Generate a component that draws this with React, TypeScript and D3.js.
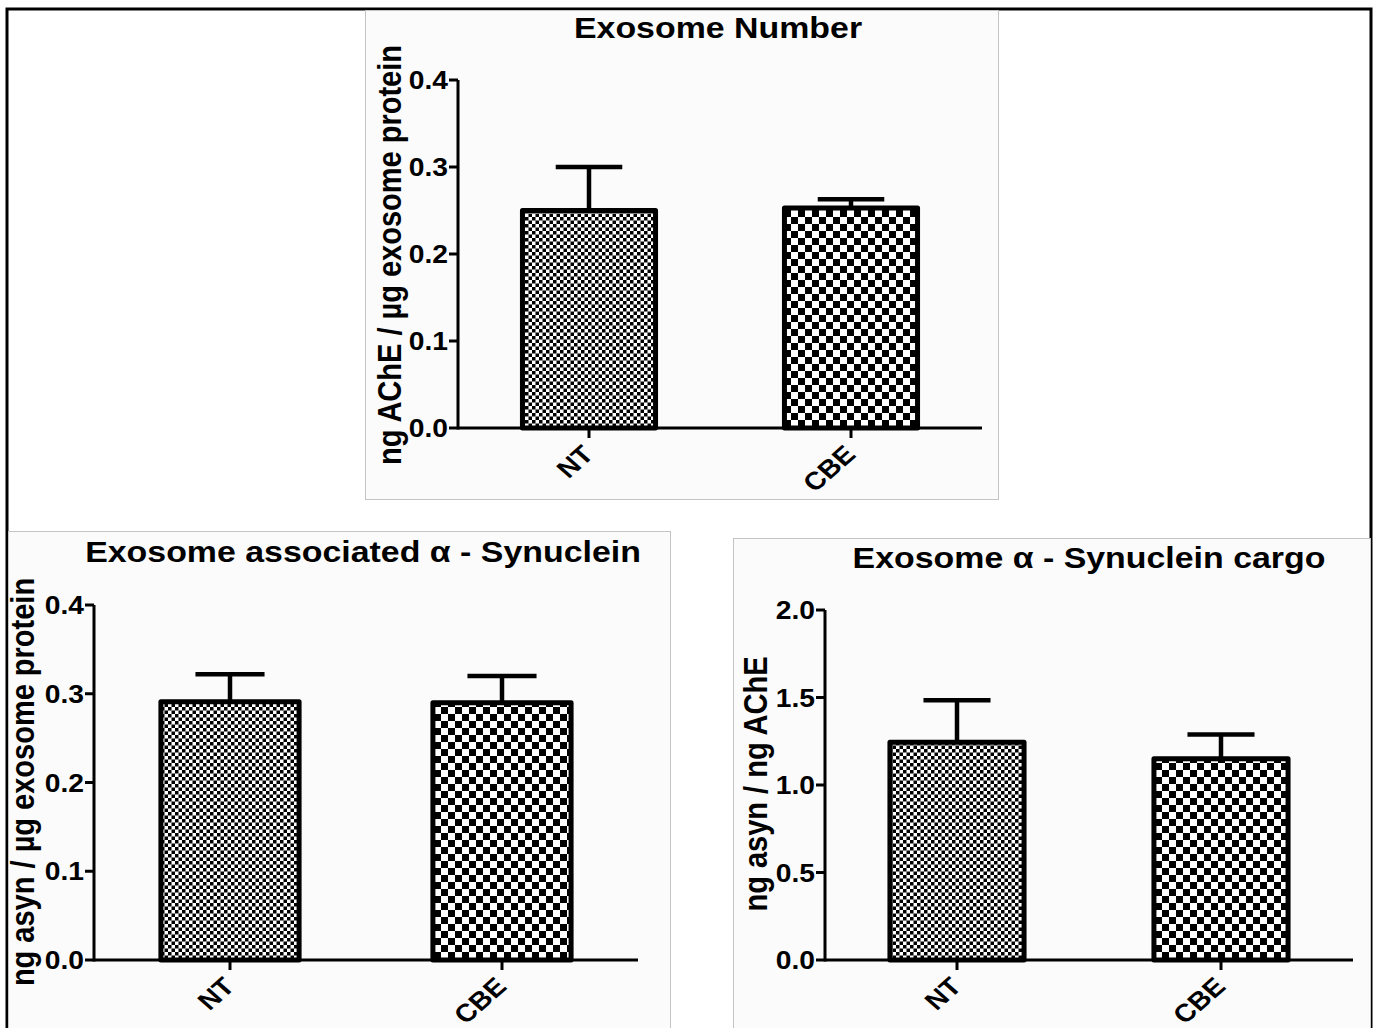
import React from "react";
import * as d3 from "d3";

const categories = ["NT", "CBE"];

const numberMeans = [0.25, 0.253];
const numberSem = [0.05, 0.01];
const numberTicks = [0, 0.1, 0.2, 0.3, 0.4];

const assocMeans = [0.291, 0.29];
const assocSem = [0.031, 0.03];
const assocTicks = [0, 0.1, 0.2, 0.3, 0.4];

const cargoMeans = [1.245, 1.15];
const cargoSem = [0.24, 0.138];
const cargoTicks = [0, 0.5, 1.0, 1.5, 2.0];

const titles = [
  "Exosome Number",
  "Exosome associated \u03b1 - Synuclein",
  "Exosome \u03b1 - Synuclein cargo",
];
const yLabels = [
  "ng AChE / \u00b5g exosome protein",
  "ng asyn / \u00b5g exosome protein",
  "ng asyn / ng AChE",
];

const FONT = "'Liberation Sans', Arial, Helvetica, sans-serif";
const SX = 1.13;

type PanelCfg = {
  box: { x: number; y: number; w: number; h: number };
  xRange: [number, number];
  yRange: [number, number];
  yMax: number;
  ticks: number[];
  means: number[];
  sems: number[];
  title: string;
  titlePos: [number, number];
  yLabel: string;
  yLabelPos: [number, number];
};

const panels: PanelCfg[] = [
  {
    box: { x: 365, y: 10, w: 633, h: 489 },
    xRange: [458, 982],
    yRange: [428, 80],
    yMax: 0.4,
    ticks: numberTicks,
    means: numberMeans,
    sems: numberSem,
    title: titles[0],
    titlePos: [718, 38],
    yLabel: yLabels[0],
    yLabelPos: [401, 255],
  },
  {
    box: { x: 8, y: 531, w: 662, h: 497 },
    xRange: [94, 638],
    yRange: [960, 605],
    yMax: 0.4,
    ticks: assocTicks,
    means: assocMeans,
    sems: assocSem,
    title: titles[1],
    titlePos: [363, 562],
    yLabel: yLabels[1],
    yLabelPos: [34, 782],
  },
  {
    box: { x: 733, y: 538, w: 637, h: 490 },
    xRange: [825, 1353],
    yRange: [960, 610],
    yMax: 2.0,
    ticks: cargoTicks,
    means: cargoMeans,
    sems: cargoSem,
    title: titles[2],
    titlePos: [1089, 568],
    yLabel: yLabels[2],
    yLabelPos: [767, 784],
  },
];

const patternIds = ["fineCheck", "coarseCheck"];

function Panel({ cfg }: { cfg: PanelCfg }) {
  const x = d3.scalePoint<string>().domain(categories).range(cfg.xRange).padding(0.5);
  const step = x.step();
  const barW = step * 0.508;
  const y = d3.scaleLinear().domain([0, cfg.yMax]).range(cfg.yRange);
  const fmt = d3.format(".1f");
  const y0 = y(0);
  return (
    <g>
      <rect
        x={cfg.box.x + 0.5}
        y={cfg.box.y + 0.5}
        width={cfg.box.w}
        height={cfg.box.h}
        fill="#fbfbfb"
        stroke="#c4c4c4"
        strokeWidth={1}
      />
      <text
        transform={`translate(${cfg.titlePos[0]},${cfg.titlePos[1]}) scale(${SX},1)`}
        textAnchor="middle"
        fontFamily={FONT}
        fontWeight="bold"
        fontSize={30}
        fill="#000"
      >
        {cfg.title}
      </text>
      <text
        transform={`translate(${cfg.yLabelPos[0]},${cfg.yLabelPos[1]}) scale(${SX},1) rotate(-90)`}
        textAnchor="middle"
        fontFamily={FONT}
        fontWeight="bold"
        fontSize={29}
        fill="#000"
      >
        {cfg.yLabel}
      </text>
      {categories.map((c, i) => {
        const cx = x(c)!;
        const top = y(cfg.means[i]);
        const errTop = y(cfg.means[i] + cfg.sems[i]);
        return (
          <g key={c}>
            <line x1={cx} x2={cx} y1={top} y2={errTop} stroke="#000" strokeWidth={4.5} />
            <line
              x1={cx - barW / 4}
              x2={cx + barW / 4}
              y1={errTop}
              y2={errTop}
              stroke="#000"
              strokeWidth={4.5}
            />
            <rect
              x={cx - barW / 2}
              y={top}
              width={barW}
              height={y0 - top}
              fill={`url(#${patternIds[i]})`}
              stroke="#000"
              strokeWidth={5}
              strokeLinejoin="round"
            />
          </g>
        );
      })}
      <line
        x1={cfg.xRange[0]}
        x2={cfg.xRange[0]}
        y1={y0 + 1.5}
        y2={y(cfg.yMax)}
        stroke="#000"
        strokeWidth={3}
      />
      {cfg.ticks.map((t) => (
        <g key={t}>
          <line
            x1={cfg.xRange[0] - 9}
            x2={cfg.xRange[0]}
            y1={y(t)}
            y2={y(t)}
            stroke="#000"
            strokeWidth={3}
          />
          <text
            transform={`translate(${cfg.xRange[0] - 10},${y(t)}) scale(${SX},1)`}
            dy="0.36em"
            textAnchor="end"
            fontFamily={FONT}
            fontWeight="bold"
            fontSize={25}
            fill="#000"
          >
            {fmt(t)}
          </text>
        </g>
      ))}
      <line
        x1={cfg.xRange[0]}
        x2={cfg.xRange[1]}
        y1={y0}
        y2={y0}
        stroke="#000"
        strokeWidth={3}
      />
      {categories.map((c) => (
        <g key={c}>
          <line x1={x(c)!} x2={x(c)!} y1={y0} y2={y0 + 10} stroke="#000" strokeWidth={3} />
          <text
            transform={`translate(${x(c)! + 6},${y0 + 28}) scale(${SX},1) rotate(-45)`}
            textAnchor="end"
            fontFamily={FONT}
            fontWeight="bold"
            fontSize={25}
            fill="#000"
          >
            {c}
          </text>
        </g>
      ))}
    </g>
  );
}

export default function App() {
  return (
    <svg
      width={1375}
      height={1028}
      style={{ position: "absolute", left: 0, top: 0, background: "#fff" }}
    >
      <defs>
        <pattern id="fineCheck" patternUnits="userSpaceOnUse" width={7} height={7}>
          <rect width={7} height={7} fill="#fff" />
          <rect width={3.5} height={3.5} fill="#000" />
          <rect x={3.5} y={3.5} width={3.5} height={3.5} fill="#000" />
        </pattern>
        <pattern id="coarseCheck" patternUnits="userSpaceOnUse" width={14} height={14}>
          <rect width={14} height={14} fill="#fff" />
          <rect width={7} height={7} fill="#000" />
          <rect x={7} y={7} width={7} height={7} fill="#000" />
        </pattern>
      </defs>
      <rect x={0} y={0} width={1375} height={1028} fill="#fff" />
      <rect x={7} y={9} width={1364} height={1040} fill="none" stroke="#000" strokeWidth={3} />
      {panels.map((p, i) => (
        <Panel key={i} cfg={p} />
      ))}
    </svg>
  );
}
